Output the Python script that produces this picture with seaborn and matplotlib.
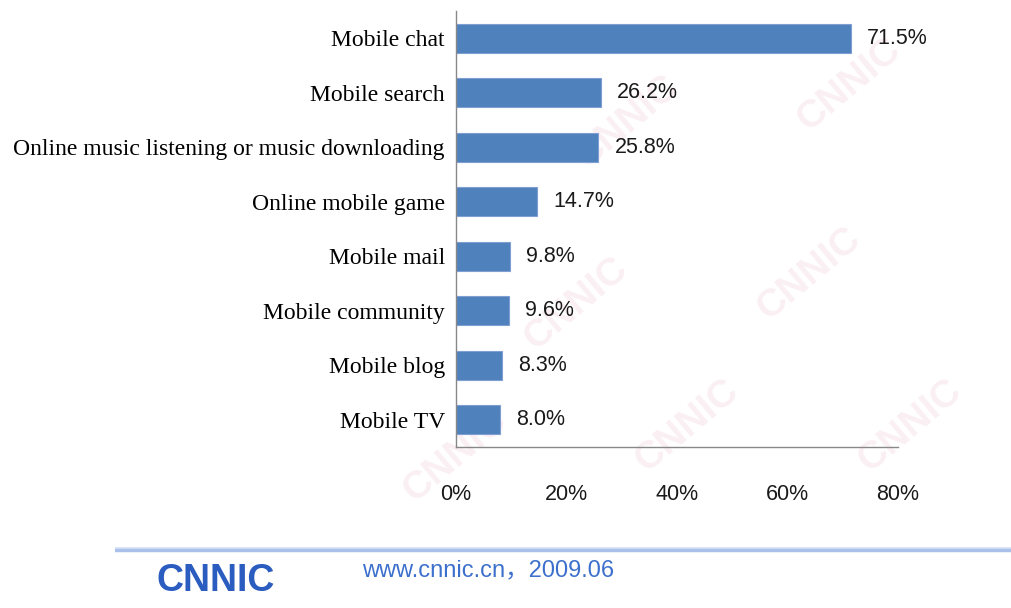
import matplotlib
matplotlib.use("Agg")
import matplotlib.pyplot as plt
from matplotlib.lines import Line2D
from matplotlib.ticker import FixedLocator, PercentFormatter
import numpy as np
import pandas as pd
import seaborn as sns

# Mobile internet applications usage rate (%)
categories = [
    "Mobile chat",
    "Mobile search",
    "Online music listening or music downloading",
    "Online mobile game",
    "Mobile mail",
    "Mobile community",
    "Mobile blog",
    "Mobile TV",
]
usage_rate = [71.5, 26.2, 25.8, 14.7, 9.8, 9.6, 8.3, 8.0]
x_ticks = [0, 20, 40, 60, 80]
footer_logo = "CNNIC"
footer_source = "www.cnnic.cn\uff0c2009.06"

sns.set_style("white")
plt.rcParams["font.family"] = ["Liberation Sans", "DejaVu Sans"]

df = pd.DataFrame({"category": categories, "rate": usage_rate})

fig = plt.figure(figsize=(10.11, 6.08), dpi=100)
fig.patch.set_facecolor("white")

# very faint background watermark, kept behind the plot
wm_color = "#faf0f3"
wm_spots = [(0.62, 0.80), (0.84, 0.86), (0.57, 0.50), (0.80, 0.55),
            (0.68, 0.30), (0.90, 0.30), (0.45, 0.25)]
for fx, fy in wm_spots:
    fig.text(fx, fy, footer_logo, color=wm_color, fontsize=28, fontweight="bold",
             rotation=40, ha="center", va="center", zorder=-5)

ax = fig.add_axes([0.451, 0.265, 0.437, 0.717])
ax.patch.set_alpha(0)

sns.barplot(data=df, x="rate", y="category", orient="h", ax=ax,
            color="#4F81BD", saturation=1, width=0.53,
            edgecolor="#7f9fd3", linewidth=0.8)

ax.set_xlim(0, 80)
ax.set_ylim(7.5, -0.5)
ax.set_xlabel("")
ax.set_ylabel("")

ax.xaxis.set_major_locator(FixedLocator(x_ticks))
ax.xaxis.set_major_formatter(PercentFormatter(decimals=0))
ax.tick_params(axis="x", direction="in", length=7, width=1, color="#888888",
               pad=27, labelsize=15.5, labelcolor="#1a1a1a")

ax.yaxis.set_minor_locator(FixedLocator(np.arange(-0.5, 8.0, 1.0)))
ax.tick_params(axis="y", which="major", length=0, pad=8, labelsize=17,
               labelcolor="black")
ax.tick_params(axis="y", which="minor", direction="in", length=6, width=1,
               color="#888888")
for lbl in ax.get_yticklabels():
    lbl.set_fontfamily(["Liberation Serif", "DejaVu Serif"])

for side in ("top", "right"):
    ax.spines[side].set_visible(False)
for side in ("left", "bottom"):
    ax.spines[side].set_color("#888888")
    ax.spines[side].set_linewidth(1)

for i, v in enumerate(usage_rate):
    ax.annotate(f"{v:.1f}%", xy=(v, i), xytext=(11.5, 0),
                textcoords="offset points", ha="left", va="center",
                fontsize=15.5, color="#1a1a1a")

# footer: divider line, logo and source
fig.add_artist(Line2D([0.114, 1.0], [0.096, 0.096], transform=fig.transFigure,
                      color="#a9c1ea", linewidth=3.2, solid_capstyle="butt"))
fig.add_artist(Line2D([0.114, 1.0], [0.099, 0.099], transform=fig.transFigure,
                      color="#d6e2f6", linewidth=1.2, solid_capstyle="butt"))
fig.text(0.213, 0.044, footer_logo, color="#2b5cbf", fontsize=27,
         fontweight="bold", ha="center", va="center")
fig.text(0.358, 0.062, footer_source, color="#3d70cc", fontsize=17,
         ha="left", va="center", family=["Liberation Sans", "Noto Sans CJK SC"])

fig.savefig("out.png", dpi=100, facecolor="white")
